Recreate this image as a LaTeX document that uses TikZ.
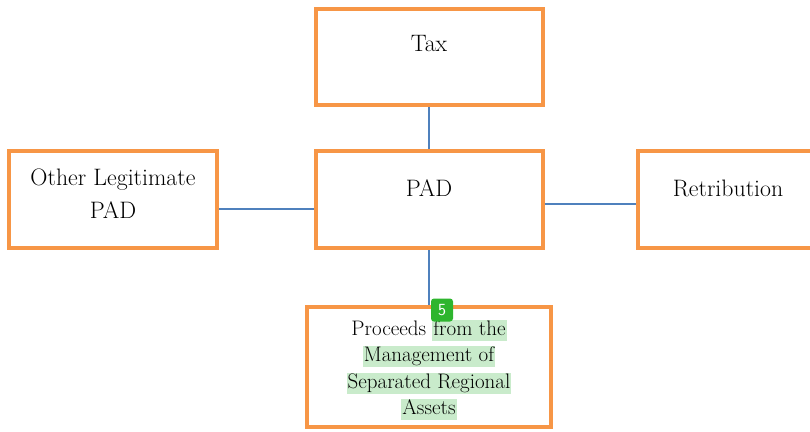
\documentclass[tikz,border=0pt]{standalone}
\usepackage{xcolor}
\definecolor{boxorange}{HTML}{F79646}
\definecolor{linkblue}{HTML}{4F81BD}
\definecolor{hlgreen}{HTML}{C9EBCB}
\definecolor{badgegreen}{HTML}{2EB52E}
\newcommand\hlmark[1]{{\setlength\fboxsep{0pt}\colorbox{hlgreen}{\rule[-5.5pt]{0pt}{21pt}\kern1pt#1\kern1pt}}}
\begin{document}
\begin{tikzpicture}[x=1pt,y=-1pt,
  boxnode/.style={draw=boxorange,line width=4pt,fill=white,rectangle,inner sep=0pt},
  link/.style={draw=linkblue,line width=1.2pt},
  lbl/.style={inner sep=0pt,align=center,font=\fontsize{23.8}{33}\selectfont},
  smalllbl/.style={inner sep=0pt,align=center,font=\fontsize{21}{26.5}\selectfont},
  badge/.style={fill=badgegreen,rounded corners=3pt,minimum width=22pt,minimum height=23pt,inner sep=0pt,text=white,font=\sffamily\fontsize{17}{17}\selectfont}]
\useasboundingbox (0,0) rectangle (810,431);
% boxes
\node[boxnode,minimum width=227pt,minimum height=96pt] (tax) at (429,57) {};
\node[boxnode,minimum width=227pt,minimum height=97pt] (pad) at (429,199.5) {};
\node[boxnode,minimum width=208pt,minimum height=97pt] (other) at (113,199.5) {};
\node[boxnode,minimum width=184pt,minimum height=97pt] (retr) at (730,199.5) {};
\node[boxnode,minimum width=244pt,minimum height=120pt] (proc) at (429,367) {};
% connectors
\draw[link] (tax.south) -- (pad.north);
\draw[link] ([yshift=-9.5pt]other.east) -- ([yshift=-9.5pt]pad.west);
\draw[link] ([yshift=-4.5pt]pad.east) -- ([yshift=-4.5pt]retr.west);
\draw[link] (pad.south) -- (proc.north);
% texts
\node[lbl] (taxtxt) at ([yshift=13pt]tax.center) {Tax};
\node[lbl] (padtxt) at ([yshift=11.5pt]pad.center) {PAD};
\node[lbl] (othertxt) at ([yshift=6pt]other.center) {Other Legitimate\\PAD};
\node[lbl] (retrtxt) at (728,188) {Retribution};
\node[smalllbl] (proctxt) at ([yshift=-3pt]proc.center) {Proceeds \hlmark{from the}\\\hlmark{Management of}\\\hlmark{Separated Regional}\\\hlmark{Assets}};
% badge
\node[badge] (badge5) at (442,310) {5};
\end{tikzpicture}
\end{document}
